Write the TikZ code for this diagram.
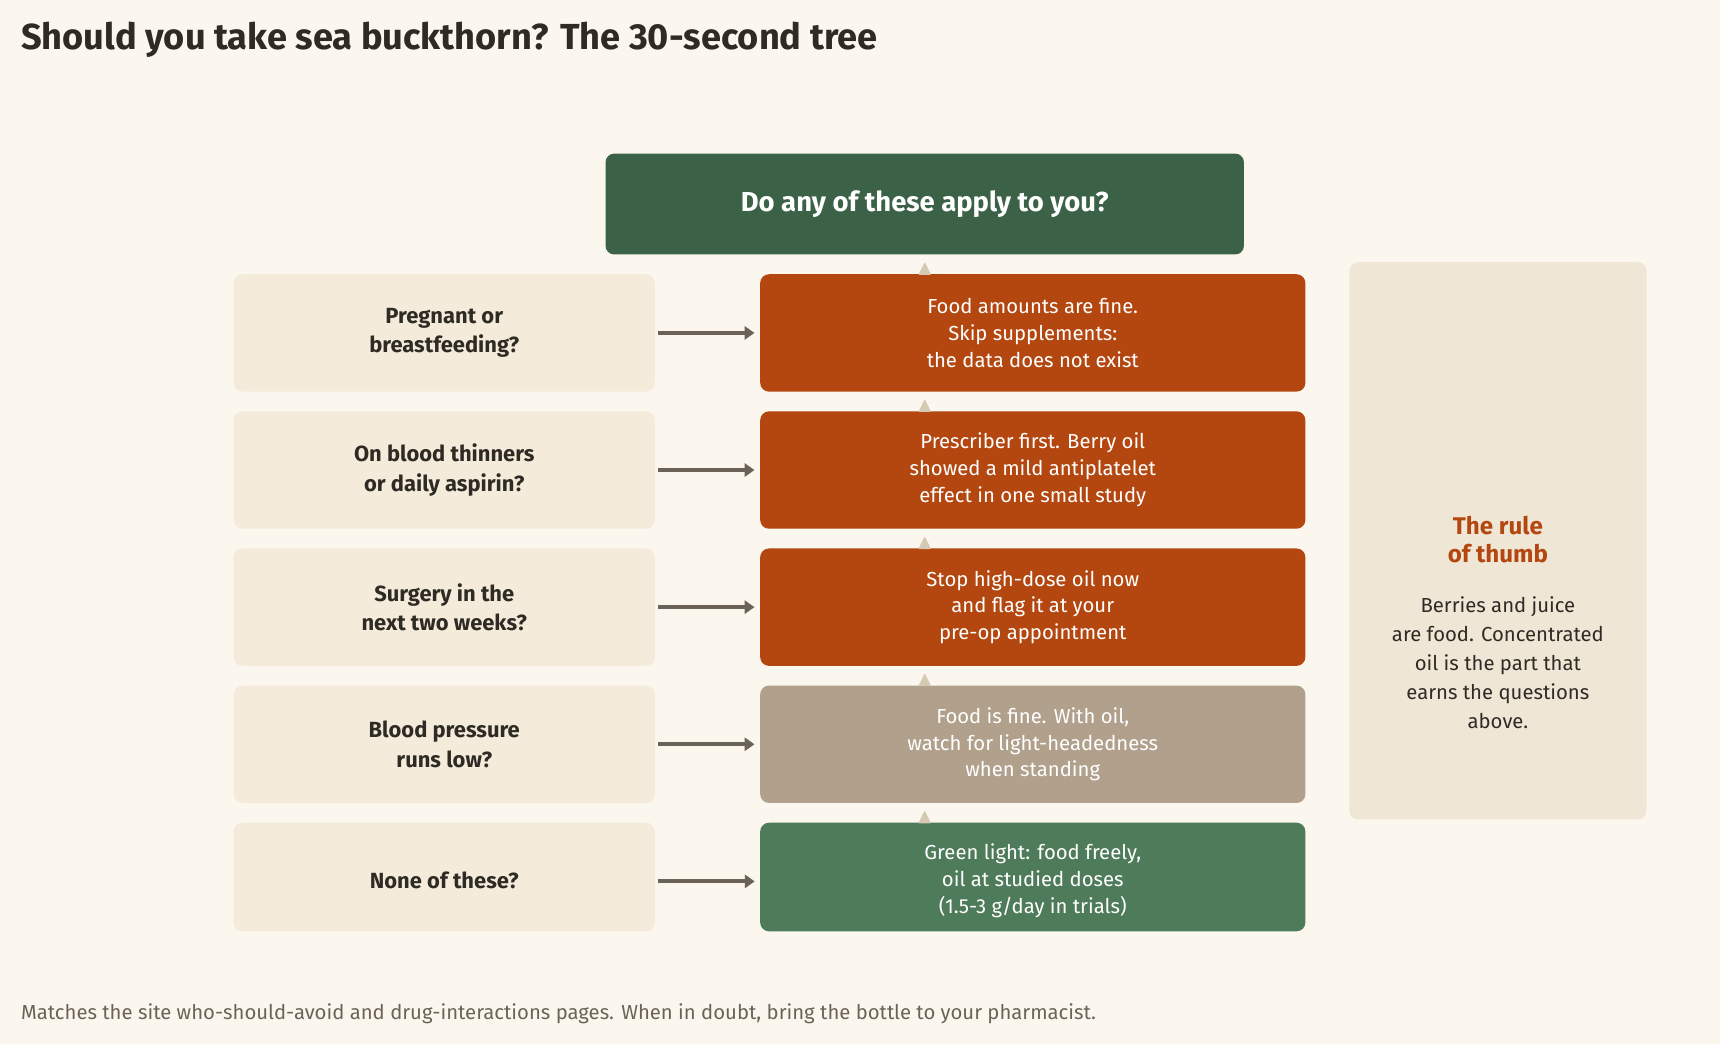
\documentclass[tikz,border=0pt]{standalone}
\usepackage{fontspec}
\setmainfont{Fira Sans}
\usetikzlibrary{arrows.meta}
\definecolor{bg}{HTML}{FBF7EF}
\definecolor{ink}{HTML}{2E2A24}
\definecolor{dgreen}{HTML}{3B6147}
\definecolor{lgreen}{HTML}{4E7B5A}
\definecolor{orng}{HTML}{B3470F}
\definecolor{taupe}{HTML}{B0A08C}
\definecolor{cream}{HTML}{F4EBDB}
\definecolor{side}{HTML}{F0E6D5}
\definecolor{arr}{HTML}{6B6358}
\definecolor{tri}{HTML}{D5C9B3}
\tikzset{
 q/.style={fill=cream,rounded corners=8pt,minimum width=384pt,minimum height=107pt,inner sep=0pt,align=center,text=ink,font=\fontsize{20}{27}\selectfont\bfseries},
 a/.style={rounded corners=8pt,minimum width=497pt,minimum height=107pt,inner sep=0pt,align=center,text=white,font=\fontsize{18.5}{24.5}\selectfont},
 link/.style={draw=arr,line width=3.5pt,-{Triangle[length=9pt,width=12pt]},shorten >=5pt,shorten <=3pt},
 tr/.style={fill=tri,draw=tri,line width=1pt,line join=round},
}
\begin{document}
\begin{tikzpicture}[x=1pt,y=-1pt]
\fill[bg] (0,0) rectangle (1568,952);
\useasboundingbox (0,0) rectangle (1568,952);
\node[anchor=base west,text=ink,font=\fontsize{33}{40}\selectfont\bfseries,inner sep=0] (title) at (19,45) {Should you take sea buckthorn? The 30-second tree};
\node[fill=dgreen,rounded corners=8pt,minimum width=582pt,minimum height=92pt,text=white,font=\fontsize{25}{30}\selectfont\bfseries] (top) at (843,186) {Do any of these apply to you?};
\node[q] (q1) at (405,303.5) {Pregnant or\\breastfeeding?};
\node[q] (q2) at (405,428.5) {On blood thinners\\or daily aspirin?};
\node[q] (q3) at (405,553.5) {Surgery in the\\next two weeks?};
\node[q] (q4) at (405,678.5) {Blood pressure\\runs low?};
\node[a,fill=orng] (a1) at (941.5,303.5) {Food amounts are fine.\\Skip supplements:\\the data does not exist};
\node[a,fill=orng] (a2) at (941.5,428.5) {Prescriber first. Berry oil\\showed a mild antiplatelet\\effect in one small study};
\node[a,fill=orng] (a3) at (941.5,553.5) {Stop high-dose oil now\\and flag it at your\\pre-op appointment};
\node[a,fill=taupe] (a4) at (941.5,678.5) {Food is fine. With oil,\\watch for light-headedness\\when standing};
% last row cut at bottom
\fill[cream,rounded corners=8pt] (213,849) |- (597,750) -- (597,849) -- cycle;
\fill[lgreen,rounded corners=8pt] (693,849) |- (1190,750) -- (1190,849) -- cycle;
\node[align=center,text=ink,font=\fontsize{20}{27}\selectfont\bfseries] (q5) at (405,803) {None of these?};
\node[align=center,text=white,font=\fontsize{18.5}{24.5}\selectfont] (a5) at (941.5,803) {Green light: food freely,\\oil at studied doses\\(1.5-3 g/day in trials)};
\coordinate (q5e) at (597,803.5); \coordinate (a5w) at (693,803.5);
\foreach \i in {1,2,3,4} \draw[link] (q\i.east) -- (a\i.west);
\draw[link] (q5e) -- (a5w);
\foreach \y in {250,375,500,625,750} \filldraw[tr] (838,\y) -- (848,\y) -- (843,{\y-10}) -- cycle;
\node[fill=side,rounded corners=8pt,minimum width=271pt,minimum height=508pt] (sidebox) at (1365.5,493) {};
\node[align=center,text=orng,font=\fontsize{22}{25}\selectfont\bfseries] (rt) at (1365.5,492) {The rule\\of thumb};
\node[align=center,text=ink,font=\fontsize{18.5}{26.5}\selectfont,anchor=north] (rb) at (1365.5,540) {Berries and juice\\are food. Concentrated\\oil is the part that\\earns the questions\\above.};
\node[anchor=base west,text=arr,font=\fontsize{18.5}{22}\selectfont,inner sep=0] (foot) at (19,929) {Matches the site who-should-avoid and drug-interactions pages. When in doubt, bring the bottle to your pharmacist.};
\end{tikzpicture}
\end{document}
